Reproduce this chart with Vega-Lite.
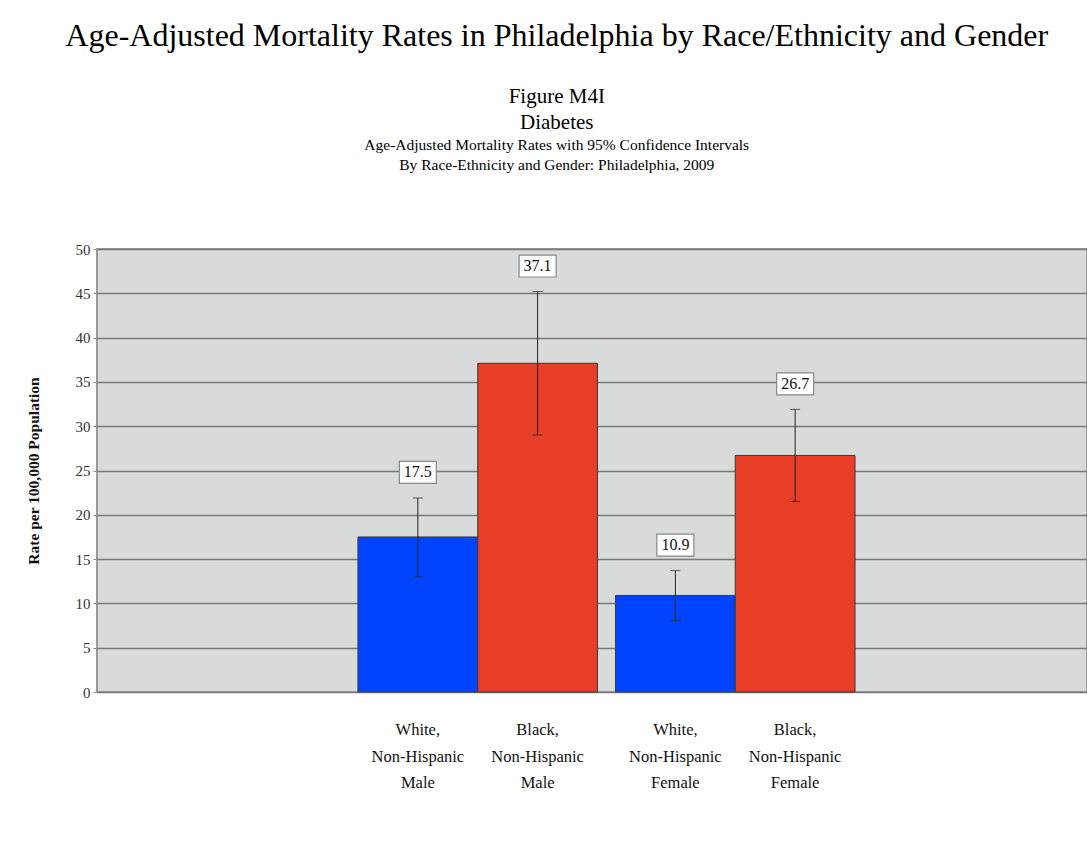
{
  "$schema": "https://vega.github.io/schema/vega-lite/v6.json",
  "padding": {"left": 25, "top": 20, "right": 0, "bottom": 0},
  "background": "white",
  "title": {
    "text": "Age-Adjusted Mortality Rates in Philadelphia by Race/Ethnicity and Gender",
    "font": "Liberation Serif",
    "fontSize": 32,
    "fontWeight": "normal",
    "color": "#000",
    "anchor": "middle",
    "frame": "bounds",
    "offset": 32
  },
  "config": {
    "view": {"stroke": "#9a9a9a", "strokeWidth": 2, "fill": "#d9dada"},
    "font": "Liberation Serif"
  },
  "vconcat": [
    {
      "width": 990,
      "height": 443,
      "title": {
        "text": ["Figure M4I", "Diabetes"],
        "font": "Liberation Serif",
        "fontSize": 21,
        "fontWeight": "normal",
        "lineHeight": 25.5,
        "color": "#000",
        "subtitle": ["Age-Adjusted Mortality Rates with 95% Confidence Intervals", "By Race-Ethnicity and Gender: Philadelphia, 2009"],
        "subtitleFont": "Liberation Serif",
        "subtitleFontSize": 15.5,
        "subtitleLineHeight": 20,
        "subtitleColor": "#000",
        "subtitlePadding": 5,
        "offset": 69,
        "anchor": "middle",
        "frame": "bounds"
      },
      "data": {
        "values": [
          {"gender": "Male", "race": "White", "rate": 17.5, "lower": 13.0, "upper": 21.9, "label": "White,\nNon-Hispanic\nMale"},
          {"gender": "Male", "race": "Black", "rate": 37.1, "lower": 29.0, "upper": 45.2, "label": "Black,\nNon-Hispanic\nMale"},
          {"gender": "Female", "race": "White", "rate": 10.9, "lower": 8.05, "upper": 13.7, "label": "White,\nNon-Hispanic\nFemale"},
          {"gender": "Female", "race": "Black", "rate": 26.7, "lower": 21.5, "upper": 31.9, "label": "Black,\nNon-Hispanic\nFemale"}
        ]
      },
      "encoding": {
        "x": {
          "field": "gender",
          "type": "nominal",
          "scale": {"domain": ["Male", "Female"], "paddingInner": 0.0699, "paddingOuter": 0.957, "align": 0.5294},
          "axis": null
        },
        "xOffset": {
          "field": "race",
          "type": "nominal",
          "scale": {"domain": ["White", "Black"], "paddingInner": 0, "paddingOuter": 0}
        }
      },
      "layer": [
        {
          "mark": {"type": "bar", "stroke": "#3a3a3a", "strokeWidth": 1},
          "encoding": {
            "y": {
              "field": "rate",
              "type": "quantitative",
              "scale": {"domain": [0, 50]},
              "axis": {
                "title": "Rate per 100,000 Population",
                "titleFont": "Liberation Serif",
                "titleFontSize": 15.5,
                "titleFontWeight": "bold",
                "titleColor": "#111",
                "titlePadding": 33.5,
                "values": [0, 5, 10, 15, 20, 25, 30, 35, 40, 45, 50],
                "labelFont": "Liberation Serif",
                "labelFontSize": 15,
                "labelColor": "#333",
                "tickSize": 4,
                "tickColor": "#888",
                "labelPadding": 3,
                "domain": false,
                "grid": true,
                "gridColor": "#7a7a7a",
                "gridWidth": 1.5
              }
            },
            "color": {
              "field": "race",
              "type": "nominal",
              "scale": {"domain": ["White", "Black"], "range": ["#0044ff", "#e83d26"]},
              "legend": null
            }
          }
        },
        {
          "mark": {"type": "rule", "color": "#222", "strokeWidth": 1},
          "encoding": {
            "y": {"field": "lower", "type": "quantitative"},
            "y2": {"field": "upper"}
          }
        },
        {
          "mark": {"type": "tick", "color": "#222", "thickness": 1, "size": 10},
          "encoding": {"y": {"field": "upper", "type": "quantitative"}}
        },
        {
          "mark": {"type": "tick", "color": "#222", "thickness": 1, "size": 10},
          "encoding": {"y": {"field": "lower", "type": "quantitative"}}
        },
        {
          "mark": {"type": "point", "shape": "M-1,-1.973L1,-1.973L1,-0.784L-1,-0.784Z", "size": 1369, "filled": true, "fill": "white", "stroke": "#888", "strokeWidth": 1.2, "opacity": 1},
          "encoding": {"y": {"field": "upper", "type": "quantitative"}}
        },
        {
          "mark": {"type": "text", "fontSize": 16, "dy": -25.5, "baseline": "middle", "color": "#111", "font": "Liberation Serif"},
          "encoding": {
            "y": {"field": "upper", "type": "quantitative"},
            "text": {"field": "rate", "type": "quantitative", "format": ".1f"}
          }
        },
        {
          "mark": {"type": "text", "fontSize": 16.5, "baseline": "top", "dy": 30, "lineBreak": "\n", "lineHeight": 26.5, "color": "#111", "font": "Liberation Serif"},
          "encoding": {
            "y": {"datum": 0, "type": "quantitative"},
            "text": {"field": "label"}
          }
        }
      ]
    }
  ]
}
